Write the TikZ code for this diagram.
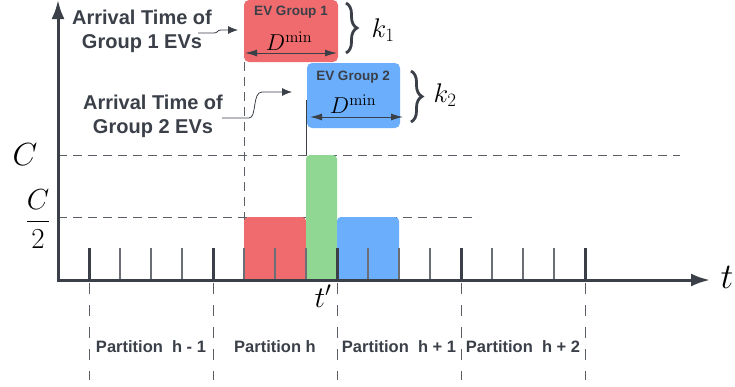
\RequirePackage{fix-cm}
\documentclass[tikz,border=0pt]{standalone}
\usepackage[no-math]{fontspec}
\setmainfont{Liberation Sans}
\usetikzlibrary{arrows.meta,decorations.pathreplacing}

\definecolor{axisgray}{HTML}{3A3F48}
\definecolor{dashgray}{HTML}{5A5F66}
\definecolor{tickgray}{HTML}{6B6F75}
\definecolor{evred}{HTML}{EF6B6E}
\definecolor{evgreen}{HTML}{8FD792}
\definecolor{evblue}{HTML}{6AAEFC}

\begin{document}
\begin{tikzpicture}[x=1pt, y=-1pt,
	taxis/.style={line width=3pt, axisgray, -{Latex[length=19pt, width=13pt]}},
	guide/.style={dashgray, line width=1pt, dash pattern=on 9pt off 6pt},
	split/.style={dashgray, line width=1pt, dash pattern=on 11pt off 11pt},
	minortick/.style={tickgray, line width=1.2pt},
	majortick/.style={axisgray, line width=3pt},
	pointer/.style={axisgray, line width=0.8pt, -{Latex[length=10pt, width=8pt]}},
	dimspan/.style={axisgray, line width=1pt, {Latex[length=12pt, width=7pt]}-{Latex[length=12pt, width=7pt]}},
	kbrace/.style={axisgray, line width=2.8pt, decorate, decoration={brace, amplitude=11pt}},
	arrlab/.style={text=axisgray, font=\fontsize{20}{24}\selectfont\bfseries, align=center, inner sep=0pt},
	partlab/.style={text=axisgray, font=\fontsize{16.5}{20}\selectfont\bfseries, inner sep=0pt},
	grplab/.style={text=axisgray, font=\fontsize{13.5}{16}\selectfont\bfseries, inner sep=0pt},
	symlab/.style={inner sep=0pt}
]
	\useasboundingbox (0,0) rectangle (735,386);

	\coordinate (O) at (58,280);
	\coordinate (Y) at (58,0);
	\coordinate (X) at (710,280);

	% capacity levels and arrival times
	\draw [guide] (O |- 0,155) -- (680,155);
	\draw [guide] (O |- 0,217) -- (478,217);
	\draw [guide] (244,62) -- (244,280);
	\draw [axisgray, line width=0.8pt] (306,100) -- (306,155);

	% charging load
	\fill [evred, rounded corners=4pt] (244,217) rectangle (306,280);
	\fill [evred] (244,240) rectangle (306,280);
	\fill [evgreen, rounded corners=4pt] (306,155) rectangle (337,280);
	\fill [evgreen] (306,200) rectangle (337,280);
	\fill [evblue, rounded corners=4pt] (337,217) rectangle (399,280);
	\fill [evblue] (337,240) rectangle (399,280);

	\foreach \x in {120,151,182,244,275,306,368,399,430,492,523,554}
		\draw [minortick] (\x,248) -- (\x,280);
	\foreach \x in {89,213,337,461,585} {
		\draw [majortick] (\x,248) -- (\x,280);
		\draw [split] (\x,283) -- (\x,380);
	}

	\draw [taxis] (58,281.5) -- (Y);
	\draw [taxis] (56.5,280) -- (X);

	\node [symlab, font=\fontsize{36}{36}\selectfont] (tlab) at (727,277) {$t$};
	\node [symlab, font=\fontsize{30}{30}\selectfont] (tprime) at (323,296) {$t'$};
	\node [symlab, font=\fontsize{32}{32}\selectfont] (clab) at (25,155) {$C$};
	\node [symlab, font=\fontsize{29}{29}\selectfont] (halflab) at (38,219) {$\displaystyle\frac{C}{2}$};

	\node [partlab] (part1) at (151,347) {Partition~ h - 1};
	\node [partlab] (part2) at (275,347) {Partition h};
	\node [partlab] (part3) at (399,347) {Partition~ h + 1};
	\node [partlab] (part4) at (523,347) {Partition~ h + 2};

	% EV groups
	\fill [evred, rounded corners=5pt] (244,0) rectangle (338,62);
	\fill [evblue, rounded corners=5pt] (307,63) rectangle (400,128);

	\node [grplab] (grp1) at (291,12) {EV Group 1};
	\node [grplab] (grp2) at (353,77) {EV Group 2};
	\node [symlab, font=\fontsize{23}{23}\selectfont] (dmin1) at (289,41) {$D^{\min}$};
	\node [symlab, font=\fontsize{23}{23}\selectfont] (dmin2) at (353,104) {$D^{\min}$};

	\coordinate (s1l) at (245,53);
	\coordinate (s1r) at (337,53);
	\coordinate (s2l) at (310,117);
	\coordinate (s2r) at (403,117);
	\draw [dimspan] (s1l) -- (s1r);
	\draw [dimspan] (s2l) -- (s2r);

	\coordinate (b1t) at (346,3);
	\coordinate (b1b) at (346,53);
	\coordinate (b2t) at (411,71);
	\coordinate (b2b) at (411,122);
	\draw [kbrace] (b1t) -- (b1b);
	\draw [kbrace] (b2t) -- (b2b);
	\node [symlab, font=\fontsize{27}{27}\selectfont] (k1) at (383,30) {$k_1$};
	\node [symlab, font=\fontsize{27}{27}\selectfont] (k2) at (445,95) {$k_2$};

	% arrival labels
	\node [arrlab] (arr1) at (142,31) {Arrival Time of\\Group 1 EVs};
	\node [arrlab] (arr2) at (153,116) {Arrival Time of\\Group 2 EVs};

	\coordinate (a1) at (198,33);
	\coordinate (g1in) at (238,30);
	\coordinate (a2) at (222,118);
	\coordinate (g2in) at (292,92);
	\draw [pointer] (a1) -- (214,33) .. controls (218,33) and (217,30) .. (221,30) -- (g1in);
	\draw [pointer] (a2) -- (249,118) .. controls (257,118) and (252,92) .. (262,92) -- (g2in);
\end{tikzpicture}
\end{document}
